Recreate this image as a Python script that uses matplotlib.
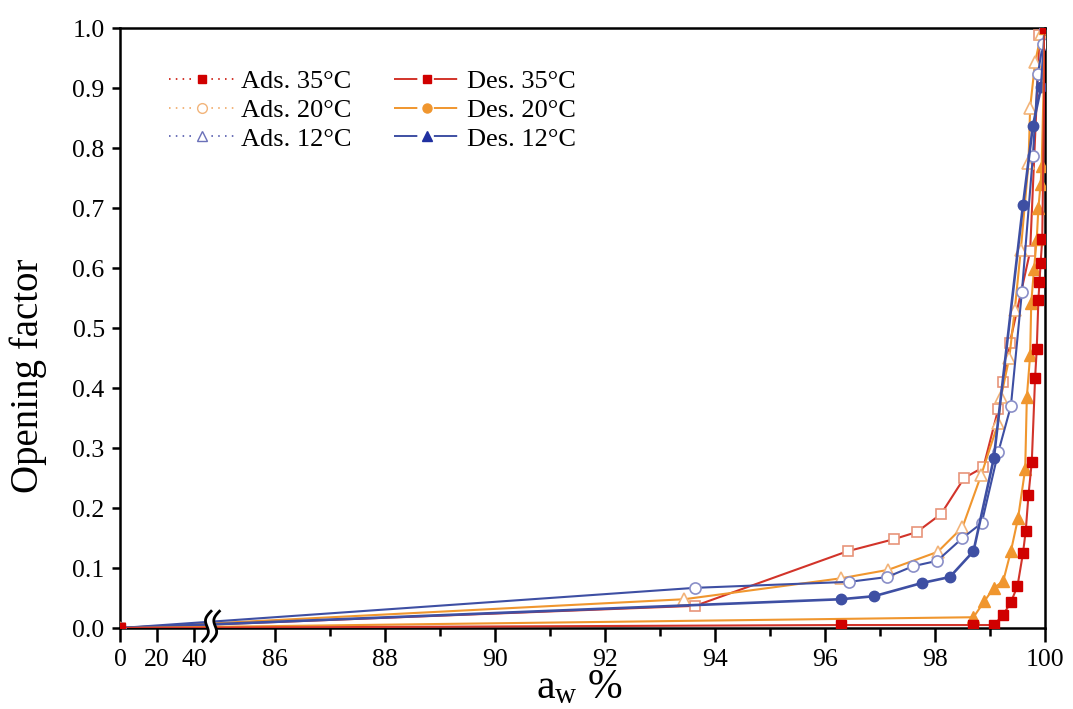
import matplotlib
matplotlib.use('Agg')
import matplotlib.pyplot as plt
import numpy as np
from matplotlib.lines import Line2D
from matplotlib.ticker import FixedLocator, FuncFormatter

plt.rcParams['font.family'] = ['Liberation Serif', 'DejaVu Serif']
plt.rcParams['mathtext.fontset'] = 'custom'
plt.rcParams['mathtext.rm'] = 'Liberation Serif'

# data (aw %, opening factor)
red_open_x = [0, 93.64, 96.41, 97.25, 97.67, 98.11, 98.53, 98.88, 99.15, 99.24, 99.36, 99.73, 99.9, 100]
red_open_y = [0, 0.037, 0.128, 0.148, 0.160, 0.190, 0.250, 0.268, 0.365, 0.410, 0.475, 0.628, 0.988, 1.0]

orange_open_x = [0, 93.44, 96.3, 97.15, 98.05, 98.5, 98.84, 99.15, 99.2, 99.35, 99.45, 99.56, 99.7, 99.73, 99.82, 99.93]
orange_open_y = [0, 0.048, 0.083, 0.097, 0.127, 0.168, 0.255, 0.342, 0.385, 0.450, 0.530, 0.630, 0.775, 0.867, 0.943, 0.990]

blue_open_x = [0, 93.64, 96.44, 97.13, 97.6, 98.04, 98.5, 98.85, 99.15, 99.38, 99.58, 99.78, 99.87, 99.96, 100]
blue_open_y = [0, 0.067, 0.077, 0.085, 0.103, 0.112, 0.150, 0.175, 0.293, 0.370, 0.560, 0.787, 0.923, 0.973, 1.0]

blue_fill_x = [0, 96.29, 96.89, 97.76, 98.27, 98.7, 99.07, 99.6, 99.78, 99.93, 100]
blue_fill_y = [0, 0.048, 0.053, 0.075, 0.085, 0.128, 0.283, 0.705, 0.837, 0.902, 1.0]

orange_fill_x = [0, 98.7, 98.9, 99.07, 99.24, 99.38, 99.51, 99.64, 99.67, 99.73, 99.75, 99.8, 99.85, 99.88, 99.92, 99.94, 100]
orange_fill_y = [0, 0.018, 0.045, 0.067, 0.078, 0.128, 0.183, 0.265, 0.385, 0.455, 0.542, 0.598, 0.648, 0.700, 0.740, 0.770, 1.0]

red_fill_x = [0, 96.29, 98.7, 99.07, 99.24, 99.38, 99.5, 99.6, 99.65, 99.7, 99.76, 99.82, 99.85, 99.88, 99.9, 99.92, 99.95, 100]
red_fill_y = [0, 0.005, 0.005, 0.005, 0.022, 0.043, 0.070, 0.125, 0.162, 0.222, 0.277, 0.417, 0.465, 0.547, 0.577, 0.608, 0.648, 1.0]

major_ticks = [0, 20, 40, 86, 88, 90, 92, 94, 96, 98, 100]
minor_ticks = [87, 89, 91, 93, 95, 97, 99]
y_ticks = [0.0, 0.1, 0.2, 0.3, 0.4, 0.5, 0.6, 0.7, 0.8, 0.9, 1.0]
labels = ['Ads. 35°C', 'Ads. 20°C', 'Ads. 12°C', 'Des. 35°C', 'Des. 20°C', 'Des. 12°C']

c_red = '#d2342a'
c_orange = '#f0962e'
c_blue = '#3e4fa3'


# broken axis: 0-45 squeezed, 85-100 stretched
def fwd(x):
    x = np.asarray(x, dtype=float)
    return np.where(x <= 45, x * 1.85,
                    np.where(x <= 85, 83.25 + (x - 45) * 16.75 / 40, 100 + (x - 85) * 55))


def inv(u):
    u = np.asarray(u, dtype=float)
    return np.where(u <= 83.25, u / 1.85,
                    np.where(u <= 100, 45 + (u - 83.25) * 40 / 16.75, 85 + (u - 100) / 55))


fig = plt.figure(figsize=(10.73, 7.09), dpi=100)
ax = fig.add_axes([0.1118, 0.1142, 0.8621, 0.8463])
ax.set_xscale('function', functions=(fwd, inv))

lw = 1.5
ax.plot(red_open_x, red_open_y, '-s', color=c_red, lw=lw, ms=7.5, mfc='white', mec='#e8957a', mew=1.2, zorder=3)
ax.plot(orange_open_x, orange_open_y, '-^', color=c_orange, lw=lw, ms=8, mfc='white', mec='#f2b47a', mew=1.2, zorder=3)
ax.plot(blue_open_x, blue_open_y, '-o', color=c_blue, lw=lw, ms=8, mfc='white', mec='#8a8fc8', mew=1.2, zorder=3)
ax.plot(blue_fill_x, blue_fill_y, '-o', color=c_blue, lw=lw + 0.4, ms=7.5, mfc=c_blue, mec=c_blue, zorder=4)
ax.plot(orange_fill_x, orange_fill_y, '-^', color=c_orange, lw=lw, ms=8.5, mfc=c_orange, mec=c_orange, zorder=4)
ax.plot(red_fill_x, red_fill_y, '-s', color=c_red, lw=lw, ms=7, mfc='#d00000', mec='#d00000', zorder=5)

ax.set_xlim(0, 100)
ax.set_ylim(0, 1.0)
ax.xaxis.set_major_locator(FixedLocator(major_ticks))
ax.xaxis.set_minor_locator(FixedLocator(minor_ticks))
ax.xaxis.set_major_formatter(FuncFormatter(lambda v, p: '%d' % round(v)))
ax.xaxis.set_minor_formatter(FuncFormatter(lambda v, p: ''))
ax.yaxis.set_major_locator(FixedLocator(y_ticks))
ax.yaxis.set_major_formatter(FuncFormatter(lambda v, p: '%.1f' % v))

ax.tick_params(axis='both', which='major', direction='out', width=1.8, labelsize=18.5, top=False, right=False)
ax.tick_params(axis='x', which='major', length=10, pad=5)
ax.tick_params(axis='y', which='major', length=6, pad=5)
ax.tick_params(axis='x', which='minor', direction='out', length=6, width=1.8, top=False)
for s in ax.spines.values():
    s.set_linewidth(1.8)

ax.set_ylabel('Opening factor', fontsize=28)
ax.yaxis.set_label_coords(-0.079, 0.42)
ax.set_xlabel(r'$\mathregular{a_w}$ %', fontsize=30)
ax.xaxis.set_label_coords(0.496, -0.068)

# break marks on the x axis
t = np.linspace(0, 1, 40)
by = -0.022 + t * 0.05
wig = 0.0035 * np.sin(2 * np.pi * t) + 0.009 * (t - 0.5)
x1 = 0.094 + wig
x2 = 0.103 + wig
ax.fill(np.concatenate([x1, x2[::-1]]), np.concatenate([by, by[::-1]]), color='white',
        transform=ax.transAxes, clip_on=False, zorder=6)
ax.plot(x1, by, color='black', lw=2, transform=ax.transAxes, clip_on=False, zorder=7)
ax.plot(x2, by, color='black', lw=2, transform=ax.transAxes, clip_on=False, zorder=7)

# legend handles: lines broken around the marker like in the original
dot_ls = (0, (0.8, 2.7, 0.8, 2.7, 0.8, 2.7, 0.8, 10.5, 0.8, 2.7, 0.8, 2.7, 0.8, 2.7, 0.8, 20))
sol_ls = (0, (12.0, 8.5, 12.0, 20))
handles = [
    Line2D([], [], color=c_red, ls=dot_ls, lw=1.4, marker='s', ms=6, mfc='#d00000', mec='#d00000'),
    Line2D([], [], color='#f2b47a', ls=dot_ls, lw=1.4, marker='o', ms=7, mfc='white', mec='#f2b47a'),
    Line2D([], [], color='#6a70b8', ls=dot_ls, lw=1.4, marker='^', ms=7.5, mfc='white', mec='#6a70b8'),
    Line2D([], [], color=c_red, ls=sol_ls, lw=1.4, marker='s', ms=6, mfc='#d00000', mec='#d00000'),
    Line2D([], [], color=c_orange, ls=sol_ls, lw=1.4, marker='o', ms=6.5, mfc=c_orange, mec=c_orange),
    Line2D([], [], color=c_blue, ls=sol_ls, lw=1.4, marker='^', ms=7.5, mfc='#2030a0', mec='#2030a0'),
]
ax.legend(handles, labels, ncol=2, frameon=False, fontsize=19, handlelength=2.5,
          handletextpad=0.25, columnspacing=1.6, labelspacing=0.2,
          loc='upper left', bbox_to_anchor=(0.027, 0.97))

fig.savefig('out.png', dpi=100)
